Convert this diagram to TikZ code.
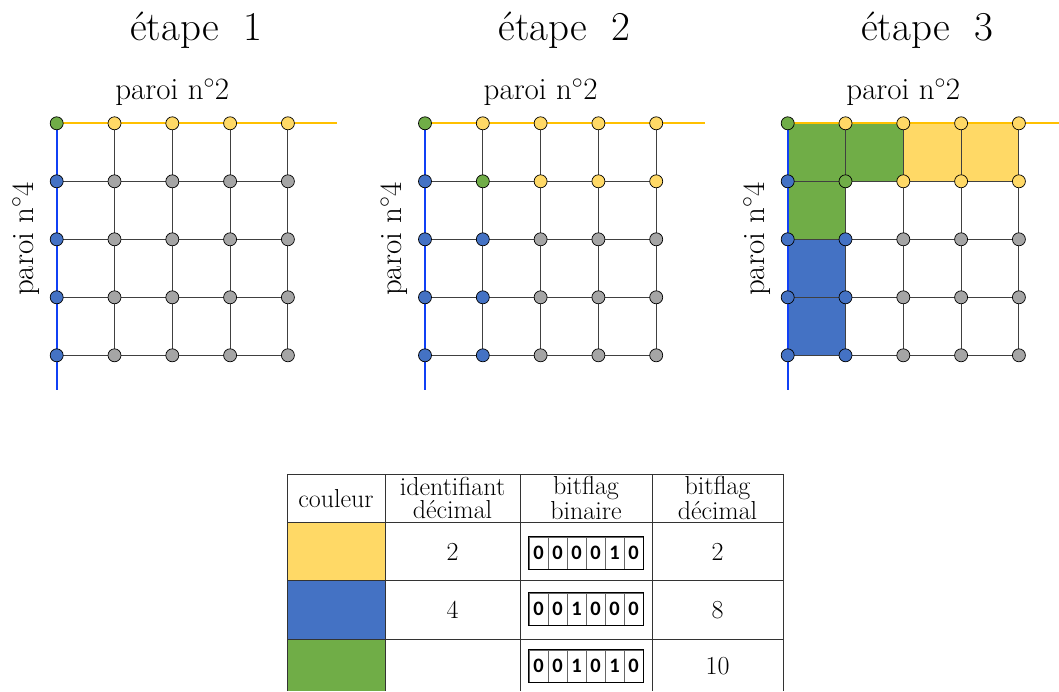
\RequirePackage{fix-cm}
\documentclass[tikz,border=0pt]{standalone}
\usepackage{fontspec}
\newfontfamily\bitfont{Carlito}
\definecolor{cyel}{HTML}{FFD966}
\definecolor{cblu}{HTML}{4472C4}
\definecolor{cgrn}{HTML}{70AD47}
\definecolor{cgry}{HTML}{A5A5A5}
\definecolor{wallo}{HTML}{FFC000}
\definecolor{wallb}{HTML}{1040F5}
\begin{document}
\begin{tikzpicture}[x=1pt,y=-1pt,
  gpt/.style={circle,draw=black,line width=0.7pt,minimum size=13pt,inner sep=0pt},
  gline/.style={draw=black!75,line width=1.1pt},
  wallO/.style={draw=wallo,line width=2pt},
  wallB/.style={draw=wallb,line width=2pt},
  titlestyle/.style={font=\fontsize{41}{43}\selectfont,anchor=base},
  labstyle/.style={font=\fontsize{31}{33}\selectfont},
  tabline/.style={draw=black!80,line width=1pt},
  tabtxt/.style={font=\fontsize{26}{28}\selectfont},
  headtxt/.style={font=\fontsize{26}{22.5}\selectfont,align=center},
  bitcell/.style={draw=black!60,line width=0.8pt,minimum width=19pt,minimum height=32pt,inner sep=0pt,font=\bitfont\bfseries\fontsize{20.5}{20.5}\selectfont},
  bitframe/.style={draw=black,line width=0.9pt}]
\useasboundingbox (0,0) rectangle (1059,691);

% grid coordinates
\foreach \g/\x in {1/56.7,2/425,3/787.7}{
  \foreach \r in {0,...,4}{
    \foreach \c in {0,...,4}{
      \coordinate (c\g-\r-\c) at ({\x+57.8*\c},{123.3+58*\r});
    }
  }
  \coordinate (eo\g) at ({\x+57.8*4+49},123.3);
  \coordinate (eb\g) at (\x,{123.3+58*4+35});
}

% fills of step 3
\fill[cgrn] (c3-0-0) rectangle (c3-1-2);
\fill[cgrn] (c3-1-0) rectangle (c3-2-1);
\fill[cyel] (c3-0-2) rectangle (c3-1-4);
\fill[cblu] (c3-2-0) rectangle (c3-4-1);

% grid lines and walls
\foreach \g in {1,2,3}{
  \foreach \i in {1,...,4}{
    \draw[gline] (c\g-\i-0) -- (c\g-\i-4);
    \draw[gline] (c\g-0-\i) -- (c\g-4-\i);
  }
  \draw[wallO] (c\g-0-0) -- (eo\g);
  \draw[wallB] (c\g-0-0) -- (eb\g);
}

% grid nodes
\foreach \g/\r/\cols in {
  1/0/{cgrn,cyel,cyel,cyel,cyel}, 1/1/{cblu,cgry,cgry,cgry,cgry}, 1/2/{cblu,cgry,cgry,cgry,cgry}, 1/3/{cblu,cgry,cgry,cgry,cgry}, 1/4/{cblu,cgry,cgry,cgry,cgry},
  2/0/{cgrn,cyel,cyel,cyel,cyel}, 2/1/{cblu,cgrn,cyel,cyel,cyel}, 2/2/{cblu,cblu,cgry,cgry,cgry}, 2/3/{cblu,cblu,cgry,cgry,cgry}, 2/4/{cblu,cblu,cgry,cgry,cgry},
  3/0/{cgrn,cyel,cyel,cyel,cyel}, 3/1/{cblu,cgrn,cyel,cyel,cyel}, 3/2/{cblu,cblu,cgry,cgry,cgry}, 3/3/{cblu,cblu,cgry,cgry,cgry}, 3/4/{cblu,cblu,cgry,cgry,cgry}}{
  \foreach \col [count=\c from 0] in \cols{
    \node[gpt,fill=\col] (n\g-\r-\c) at (c\g-\r-\c) {};
  }
}

% labels
\foreach \g/\x in {1/56.7,2/425,3/787.7}{
  \node[titlestyle] (t\g) at ({\x+139.5},40) {étape\ \ \g};
  \node[labstyle] (p2-\g) at ({\x+115.6},92) {paroi n$^\circ$2};
  \node[labstyle,rotate=90] (p4-\g) at ({\x-31},239) {paroi n$^\circ$4};
}

% table
\fill[cyel] (287,522) rectangle (385,580);
\fill[cblu] (287,580) rectangle (385,639);
\fill[cgrn] (287,639) rectangle (385,691);
\foreach \y in {474,522,580,639}{
  \draw[tabline] (287,\y) -- (783,\y);
}
\foreach \x in {287,385,520,652,783}{
  \draw[tabline] (\x,474) -- (\x,691);
}
\node[tabtxt] (h1) at (336,499) {couleur};
\node[headtxt] (h2) at (452.5,498) {identifiant\\décimal};
\node[headtxt] (h3) at (586,498) {bitflag\\binaire};
\node[headtxt] (h4) at (717.5,498) {bitflag\\décimal};
\node[tabtxt] (id1) at (452.5,552) {2};
\node[tabtxt] (id2) at (452.5,610) {4};
\node[tabtxt] (d1) at (717.5,552) {2};
\node[tabtxt] (d2) at (717.5,610) {8};
\node[tabtxt] (d3) at (717.5,666) {10};
\foreach \row/\yy/\bits in {1/552.9/{0,0,0,0,1,0},2/609.3/{0,0,1,0,0,0},3/666/{0,0,1,0,1,0}}{
  \foreach \b [count=\i from 0] in \bits{
    \node[bitcell] (bf\row-\i) at ({538.6+19*\i},\yy) {\b};
  }
  \draw[bitframe] (bf\row-0.north west) rectangle (bf\row-5.south east);
}
\end{tikzpicture}
\end{document}
